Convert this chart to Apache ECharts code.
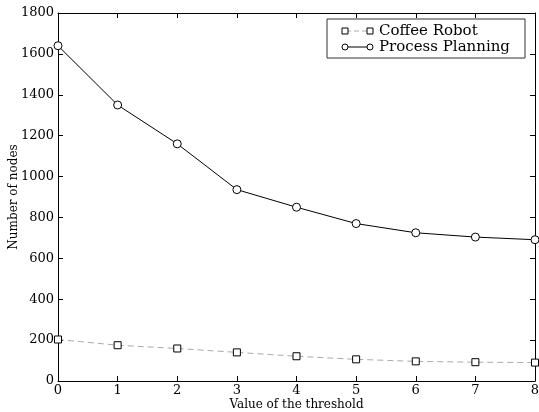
<!DOCTYPE html>
<html>
<head>
<meta charset="utf-8">
<script src="https://cdn.jsdelivr.net/npm/echarts@6/dist/echarts.min.js"></script>
<style>
  html, body { margin: 0; padding: 0; background: #fff; }
  #chart { width: 539px; height: 412px; }
</style>
</head>
<body>
<div id="chart"></div>
<script>
const thresholds = [0, 1, 2, 3, 4, 5, 6, 7, 8];
const coffeeRobot = [203, 175, 159, 140, 121, 106, 96, 92, 90];
const processPlanning = [1640, 1350, 1160, 936, 850, 770, 725, 704, 691];
const seriesNames = ['Coffee Robot', 'Process Planning'];

const font = '"DejaVu Serif", serif';
const chart = echarts.init(document.getElementById('chart'));

const tickIn = { show: true, inside: true, length: 5, lineStyle: { color: '#000' } };
const line = { show: true, onZero: false, lineStyle: { color: '#000', width: 1 } };
const legendText = { fontFamily: font, fontSize: 15, fill: '#000', verticalAlign: 'middle' };

// legend drawn by hand so each entry shows a marker on both ends of the line
const legendGraphic = [
  { type: 'rect', shape: { x: 327, y: 19, width: 198, height: 39 },
    style: { fill: '#fff', stroke: '#333', lineWidth: 1 }, z: 100 },
  { type: 'line', shape: { x1: 346, y1: 31, x2: 369, y2: 31 },
    style: { stroke: '#aaa', lineDash: [5, 3], lineWidth: 1 }, z: 101 },
  { type: 'rect', shape: { x: 342, y: 28, width: 6, height: 6 },
    style: { fill: '#fff', stroke: '#000' }, z: 102 },
  { type: 'rect', shape: { x: 367, y: 28, width: 6, height: 6 },
    style: { fill: '#fff', stroke: '#000' }, z: 102 },
  { type: 'text', x: 379, y: 31, style: Object.assign({ text: seriesNames[0] }, legendText), z: 101 },
  { type: 'line', shape: { x1: 346, y1: 47, x2: 369, y2: 47 },
    style: { stroke: '#000', lineWidth: 1 }, z: 101 },
  { type: 'circle', shape: { cx: 345, cy: 47, r: 3 },
    style: { fill: '#fff', stroke: '#000' }, z: 102 },
  { type: 'circle', shape: { cx: 370, cy: 47, r: 3 },
    style: { fill: '#fff', stroke: '#000' }, z: 102 },
  { type: 'text', x: 379, y: 47, style: Object.assign({ text: seriesNames[1] }, legendText), z: 101 }
];

const option = {
  animation: false,
  backgroundColor: '#fff',
  textStyle: { fontFamily: font },
  grid: { left: 58, right: 4, top: 13, bottom: 31, containLabel: false, outerBoundsMode: 'none' },
  xAxis: [
    {
      type: 'value', min: 0, max: 8, interval: 1, position: 'bottom',
      name: 'Value of the threshold', nameLocation: 'middle', nameGap: 18,
      nameMoveOverlap: false,
      nameTextStyle: { fontFamily: font, fontSize: 12, color: '#000', verticalAlign: 'top' },
      axisLine: line, axisTick: tickIn, splitLine: { show: false },
      axisLabel: { fontFamily: font, fontSize: 13, color: '#000', margin: 3 }
    },
    {
      type: 'value', min: 0, max: 8, interval: 1, position: 'top',
      axisLine: line, axisTick: tickIn, splitLine: { show: false },
      axisLabel: { show: false }
    }
  ],
  yAxis: [
    {
      type: 'value', min: 0, max: 1800, interval: 200, position: 'left',
      name: 'Number of nodes', nameLocation: 'middle', nameGap: 38,
      nameMoveOverlap: false,
      nameTextStyle: { fontFamily: font, fontSize: 12, color: '#000' },
      axisLine: line, axisTick: tickIn, splitLine: { show: false },
      axisLabel: { fontFamily: font, fontSize: 13, color: '#000', margin: 4,
        formatter: v => String(v) }
    },
    {
      type: 'value', min: 0, max: 1800, interval: 200, position: 'right',
      axisLine: line, axisTick: tickIn, splitLine: { show: false },
      axisLabel: { show: false }
    }
  ],
  series: [
    {
      name: seriesNames[0], type: 'line',
      data: thresholds.map((t, i) => [t, coffeeRobot[i]]),
      symbol: 'rect', symbolSize: 7,
      itemStyle: { color: '#fff', borderColor: '#000', borderWidth: 1 },
      lineStyle: { color: '#aaa', width: 1, type: [6, 4] }
    },
    {
      name: seriesNames[1], type: 'line',
      data: thresholds.map((t, i) => [t, processPlanning[i]]),
      symbol: 'circle', symbolSize: 8,
      itemStyle: { color: '#fff', borderColor: '#000', borderWidth: 1 },
      lineStyle: { color: '#000', width: 1 }
    }
  ],
  graphic: legendGraphic
};

chart.setOption(option);
</script>
</body>
</html>
